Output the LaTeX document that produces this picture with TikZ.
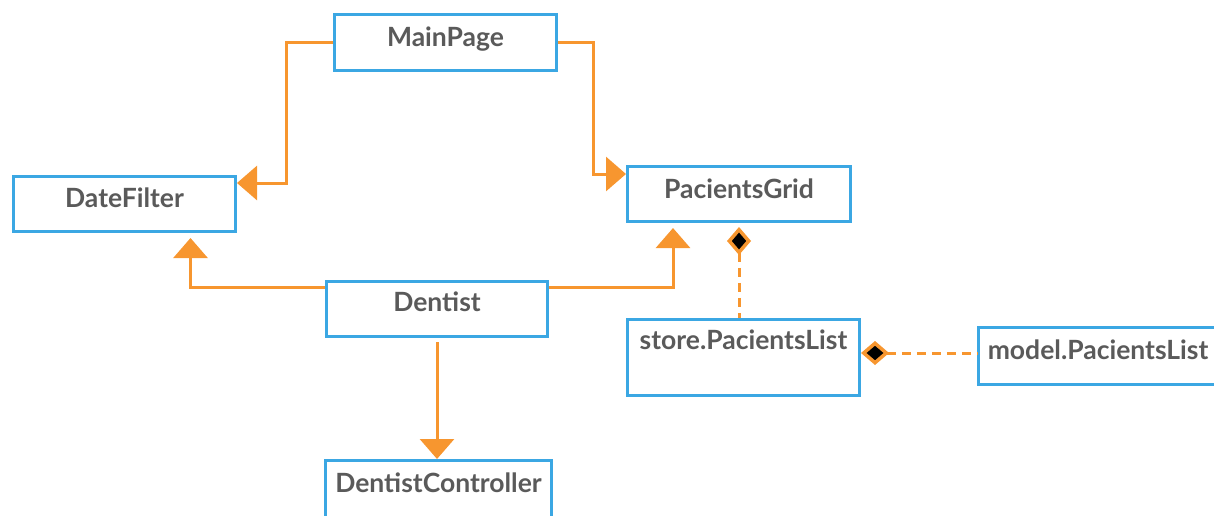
\documentclass[tikz,border=0pt]{standalone}
\usepackage{fontspec}
\setmainfont{Lato}
\usetikzlibrary{arrows.meta}
\definecolor{umlblue}{HTML}{3BA7E3}
\definecolor{umlorange}{HTML}{F7962F}
\definecolor{umltext}{HTML}{5A5A5A}
\begin{document}
\begin{tikzpicture}[x=1pt,y=-1pt,
  classbox/.style={draw=umlblue, line width=3pt, fill=white, rectangle,
    inner sep=0pt, anchor=north west},
  classname/.style={anchor=base, text=umltext, inner sep=0pt,
    font=\fontsize{26.5}{30}\selectfont\bfseries},
  uses/.style={draw=umlorange, line width=3pt,
    -{Triangle[width=34pt,length=20pt]}},
  owns/.style={draw=umlorange, line width=3pt, dash pattern=on 9pt off 6pt,
    {Diamond[length=28pt,width=24pt,line width=3.5pt,color=umlorange,fill=black]}-}
]
\useasboundingbox (0,0) rectangle (1214,515);

% classes
\node[classbox, minimum width=222pt, minimum height=56pt] (mp) at (333,13) {};
\node[classbox, minimum width=222pt, minimum height=55pt] (df) at (12,175) {};
\node[classbox, minimum width=223pt, minimum height=55pt] (pg) at (626,165) {};
\node[classbox, minimum width=221pt, minimum height=55pt] (de) at (325,280) {};
\node[classbox, minimum width=232pt, minimum height=76pt] (st) at (626,318) {};
\node[classbox, minimum width=239pt, minimum height=57pt] (md) at (977,326) {};
\node[classbox, minimum width=226pt, minimum height=70pt] (dc) at (324,459) {};

% class names
\node[classname] (mp-t) at ([yshift=-33pt]mp.north) {MainPage};
\node[classname] (df-t) at ([yshift=-32pt]df.north) {DateFilter};
\node[classname] (pg-t) at ([yshift=-33pt]pg.north) {PacientsGrid};
\node[classname] (de-t) at ([yshift=-31pt]de.north) {Dentist};
\node[classname] (st-t) at ([yshift=-31pt]st.north) {store.PacientsList};
\node[classname] (md-t) at ([yshift=-33pt]md.north) {model.PacientsList};
\node[classname] (dc-t) at ([yshift=-33pt]dc.north) {DentistController};

% dependencies
\draw[uses] (mp.west) -- ++(-47,0) |- ([yshift=21pt]df.east);
\draw[uses] (mp.east) -- ++(35.5,0) |- ([yshift=20pt]pg.west);
\draw[uses, shorten >=5pt] ([yshift=22pt]de.west) -| ([xshift=66pt]df.south);
\draw[uses, shorten >=5pt] ([yshift=22pt]de.east) -| ([xshift=-66pt]pg.south);
\draw[uses, shorten <=4pt] (de.south) -- (de.south |- dc.north);

% compositions
\draw[owns, shorten <=4pt] (pg.south) -- (pg.south |- st.north);
\draw[owns] ([yshift=4.5pt]st.east) -- ([yshift=4.5pt]st.east -| md.west);
\end{tikzpicture}
\end{document}
